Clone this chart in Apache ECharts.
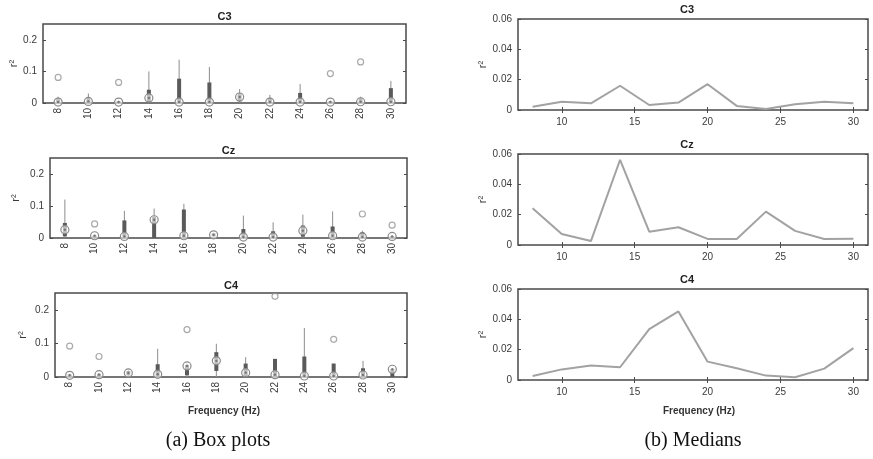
<!DOCTYPE html>
<html>
<head>
<meta charset="utf-8">
<script src="https://cdn.jsdelivr.net/npm/echarts@6/dist/echarts.min.js"></script>
<style>
  html, body { margin: 0; padding: 0; background: #fff; }
  #chart { width: 873px; height: 459px; }
</style>
</head>
<body>
<div id="chart"></div>
<script>
// Frequencies (Hz) shared by every panel
const freqs = [8, 10, 12, 14, 16, 18, 20, 22, 24, 26, 28, 30];

// Box-plot tick values
const boxYTicks = [0, 0.1, 0.2];
// Median-plot tick values
const medYTicks = [0, 0.02, 0.04, 0.06];
const medXTicks = [10, 15, 20, 25, 30];

// C3 box statistics (lower whisker, Q1, median, Q3, upper whisker)
const c3Low  = [0, 0, 0, 0, 0, 0, 0, 0, 0, 0, 0, 0];
const c3Q1   = [0, 0, 0, 0.003, 0, 0, 0.005, 0, 0, 0, 0, 0];
const c3Med  = [0.003, 0.005, 0.003, 0.016, 0.003, 0.003, 0.019, 0.003, 0.003, 0.003, 0.004, 0.004];
const c3Q3   = [0.012, 0.016, 0.006, 0.042, 0.077, 0.065, 0.03, 0.016, 0.032, 0.006, 0.016, 0.047];
const c3High = [0.02, 0.03, 0.008, 0.1, 0.137, 0.114, 0.044, 0.026, 0.06, 0.008, 0.02, 0.07];
const c3Out  = [[8, 0.081], [12, 0.065], [26, 0.093], [28, 0.13]];

// Cz box statistics
const czLow  = [0, 0, 0, 0, 0, 0, 0, 0, 0, 0, 0, 0];
const czQ1   = [0.005, 0, 0, 0, 0, 0.005, 0, 0, 0.004, 0, 0, 0];
const czMed  = [0.026, 0.007, 0.005, 0.057, 0.007, 0.01, 0.003, 0.003, 0.023, 0.007, 0.003, 0.005];
const czQ3   = [0.047, 0.008, 0.055, 0.066, 0.089, 0.014, 0.028, 0.021, 0.039, 0.036, 0.018, 0.006];
const czHigh = [0.12, 0.01, 0.085, 0.092, 0.107, 0.016, 0.07, 0.049, 0.073, 0.083, 0.023, 0.008];
const czOut  = [[10, 0.044], [28, 0.075], [30, 0.04]];

// C4 box statistics
const c4Low  = [0, 0, 0, 0, 0, 0, 0, 0, 0, 0, 0, 0];
const c4Q1   = [0, 0, 0.005, 0, 0.005, 0.018, 0, 0, 0, 0, 0, 0];
const c4Med  = [0.005, 0.007, 0.012, 0.008, 0.033, 0.048, 0.013, 0.007, 0.003, 0.003, 0.006, 0.023];
const c4Q3   = [0.008, 0.01, 0.018, 0.038, 0.036, 0.074, 0.04, 0.054, 0.061, 0.04, 0.026, 0.024];
const c4High = [0.01, 0.012, 0.022, 0.084, 0.04, 0.099, 0.059, 0.054, 0.146, 0.04, 0.048, 0.024];
const c4Out  = [[8, 0.092], [10, 0.061], [16, 0.141], [22, 0.24], [26, 0.112]];

// Median r² per frequency
const c3Median = [0.0022, 0.0055, 0.0044, 0.016, 0.0033, 0.0049, 0.017, 0.0027, 0.0007, 0.0038, 0.0055, 0.0044];
const czMedian = [0.0243, 0.0073, 0.0026, 0.0562, 0.0088, 0.0117, 0.004, 0.004, 0.022, 0.0093, 0.004, 0.0042];
const c4Median = [0.0026, 0.007, 0.0095, 0.0084, 0.0335, 0.0452, 0.0121, 0.0077, 0.0029, 0.0018, 0.0075, 0.021];

const textFont = 'Liberation Sans, Arial, sans-serif';
const axisColor = '#4a4a4a';
const labelColor = '#3a3a3a';

const boxPanels = [
  { name: 'C3', grid: { left: 43, top: 24, width: 363, height: 79 }, nameGap: 24,
    low: c3Low, q1: c3Q1, med: c3Med, q3: c3Q3, high: c3High, out: c3Out },
  { name: 'Cz', grid: { left: 50, top: 158, width: 357, height: 80 }, nameGap: 29,
    low: czLow, q1: czQ1, med: czMed, q3: czQ3, high: czHigh, out: czOut },
  { name: 'C4', grid: { left: 55, top: 293, width: 352, height: 84 }, nameGap: 27,
    low: c4Low, q1: c4Q1, med: c4Med, q3: c4Q3, high: c4High, out: c4Out }
];

const medianPanels = [
  { name: 'C3', grid: { left: 518, top: 19, width: 350, height: 91 }, values: c3Median },
  { name: 'Cz', grid: { left: 518, top: 154, width: 350, height: 91 }, values: czMedian },
  { name: 'C4', grid: { left: 518, top: 289, width: 350, height: 91 }, values: c4Median }
];

// Compact box: thin whisker, thick box, circled median
function renderBox(params, api) {
  const x = api.value(0);
  const pLow = api.coord([x, api.value(1)]);
  const pQ1 = api.coord([x, api.value(2)]);
  const pMed = api.coord([x, api.value(3)]);
  const pQ3 = api.coord([x, api.value(4)]);
  const pHigh = api.coord([x, api.value(5)]);
  return {
    type: 'group',
    children: [
      { type: 'line', shape: { x1: pLow[0], y1: pLow[1], x2: pHigh[0], y2: pHigh[1] },
        style: { stroke: '#8c8c8c', lineWidth: 1 } },
      { type: 'line', shape: { x1: pQ1[0], y1: pQ1[1], x2: pQ3[0], y2: pQ3[1] },
        style: { stroke: '#5a5a5a', lineWidth: 4 } },
      { type: 'circle', shape: { cx: pMed[0], cy: pMed[1], r: 4 },
        style: { fill: 'rgba(255,255,255,0.6)', stroke: '#8a8a8a', lineWidth: 1.2 } },
      { type: 'circle', shape: { cx: pMed[0], cy: pMed[1], r: 1.2 },
        style: { fill: '#777' } }
    ]
  };
}

const grids = [];
const xAxes = [];
const yAxes = [];
const series = [];
const graphics = [];

boxPanels.forEach((p, i) => {
  grids.push(Object.assign({ show: true, borderColor: axisColor, borderWidth: 1.5, backgroundColor: '#fff' }, p.grid));
  xAxes.push({
    gridIndex: i, type: 'category', data: freqs.map(String), boundaryGap: true,
    axisLine: { show: false }, axisTick: { show: false }, splitLine: { show: false },
    axisLabel: { rotate: 90, fontSize: 10, color: labelColor, fontFamily: textFont, margin: 5 }
  });
  yAxes.push({
    gridIndex: i, type: 'value', min: 0, max: 0.25,
    name: 'r²', nameLocation: 'middle', nameRotate: 90, nameGap: p.nameGap,
    nameTextStyle: { fontSize: 11, color: labelColor, fontFamily: textFont },
    axisLine: { show: false }, splitLine: { show: false },
    axisTick: { show: true, inside: true, length: 3, customValues: boxYTicks, lineStyle: { color: axisColor } },
    axisLabel: { customValues: boxYTicks, fontSize: 10, color: labelColor, fontFamily: textFont, margin: 6,
      formatter: v => (v === 0 ? '0' : String(v)) }
  });
  yAxes.push({
    gridIndex: i, type: 'value', min: 0, max: 0.25, position: 'right',
    axisLine: { show: false }, splitLine: { show: false }, axisLabel: { show: false },
    axisTick: { show: true, inside: true, length: 3, customValues: boxYTicks, lineStyle: { color: axisColor } }
  });
  const yIdx = yAxes.length - 2;
  series.push({
    type: 'custom', xAxisIndex: i, yAxisIndex: yIdx, renderItem: renderBox,
    encode: { x: 0, y: [1, 2, 3, 4, 5] }, clip: false, z: 3,
    data: freqs.map((f, k) => [k, p.low[k], p.q1[k], p.med[k], p.q3[k], p.high[k]])
  });
  series.push({
    type: 'scatter', xAxisIndex: i, yAxisIndex: yIdx, symbol: 'circle', symbolSize: 6, z: 4,
    itemStyle: { color: 'rgba(255,255,255,0)', borderColor: '#959595', borderWidth: 1.2 },
    data: p.out.map(o => [freqs.indexOf(o[0]), o[1]])
  });
  graphics.push({
    type: 'text', x: p.grid.left + p.grid.width / 2, y: p.grid.top - 7,
    style: { text: p.name, font: 'bold 11px ' + textFont, fill: '#222', textAlign: 'center', textVerticalAlign: 'middle' }
  });
});

medianPanels.forEach((p, j) => {
  const gi = grids.length;
  grids.push(Object.assign({ show: true, borderColor: axisColor, borderWidth: 1.5, backgroundColor: '#fff' }, p.grid));
  xAxes.push({
    gridIndex: gi, type: 'value', min: 7, max: 31,
    axisLine: { show: false }, splitLine: { show: false },
    axisTick: { show: true, inside: true, length: 3, customValues: medXTicks, lineStyle: { color: axisColor } },
    axisLabel: { customValues: medXTicks, fontSize: 10, color: labelColor, fontFamily: textFont, margin: 7 }
  });
  xAxes.push({
    gridIndex: gi, type: 'value', min: 7, max: 31, position: 'top',
    axisLine: { show: false }, splitLine: { show: false }, axisLabel: { show: false },
    axisTick: { show: true, inside: true, length: 3, customValues: medXTicks, lineStyle: { color: axisColor } }
  });
  yAxes.push({
    gridIndex: gi, type: 'value', min: 0, max: 0.06,
    name: 'r²', nameLocation: 'middle', nameRotate: 90, nameGap: 30,
    nameTextStyle: { fontSize: 11, color: labelColor, fontFamily: textFont },
    axisLine: { show: false }, splitLine: { show: false },
    axisTick: { show: true, inside: true, length: 3, customValues: medYTicks, lineStyle: { color: axisColor } },
    axisLabel: { customValues: medYTicks, fontSize: 10, color: labelColor, fontFamily: textFont, margin: 6,
      formatter: v => (v === 0 ? '0' : v.toFixed(2)) }
  });
  yAxes.push({
    gridIndex: gi, type: 'value', min: 0, max: 0.06, position: 'right',
    axisLine: { show: false }, splitLine: { show: false }, axisLabel: { show: false },
    axisTick: { show: true, inside: true, length: 3, customValues: medYTicks, lineStyle: { color: axisColor } }
  });
  series.push({
    type: 'line', xAxisIndex: xAxes.length - 2, yAxisIndex: yAxes.length - 2,
    showSymbol: false, symbol: 'none', z: 3,
    lineStyle: { color: '#a2a2a2', width: 2 },
    data: freqs.map((f, k) => [f, p.values[k]])
  });
  graphics.push({
    type: 'text', x: p.grid.left + p.grid.width / 2 - 6, y: p.grid.top - 9,
    style: { text: p.name, font: 'bold 11px ' + textFont, fill: '#222', textAlign: 'center', textVerticalAlign: 'middle' }
  });
});

// Shared axis titles and sub-figure captions
graphics.push(
  { type: 'text', x: 224, y: 411,
    style: { text: 'Frequency (Hz)', font: 'bold 10px ' + textFont, fill: '#333', textAlign: 'center', textVerticalAlign: 'middle' } },
  { type: 'text', x: 699, y: 411,
    style: { text: 'Frequency (Hz)', font: 'bold 10px ' + textFont, fill: '#333', textAlign: 'center', textVerticalAlign: 'middle' } },
  { type: 'text', x: 218, y: 441,
    style: { text: '(a) Box plots', font: '20px Liberation Serif, Times New Roman, serif', fill: '#111', textAlign: 'center', textVerticalAlign: 'middle' } },
  { type: 'text', x: 693, y: 441,
    style: { text: '(b) Medians', font: '20px Liberation Serif, Times New Roman, serif', fill: '#111', textAlign: 'center', textVerticalAlign: 'middle' } }
);

const chart = echarts.init(document.getElementById('chart'), null, { renderer: 'canvas' });
chart.setOption({
  animation: false,
  backgroundColor: '#fff',
  grid: grids,
  xAxis: xAxes,
  yAxis: yAxes,
  series: series,
  graphic: graphics
});
</script>
</body>
</html>
